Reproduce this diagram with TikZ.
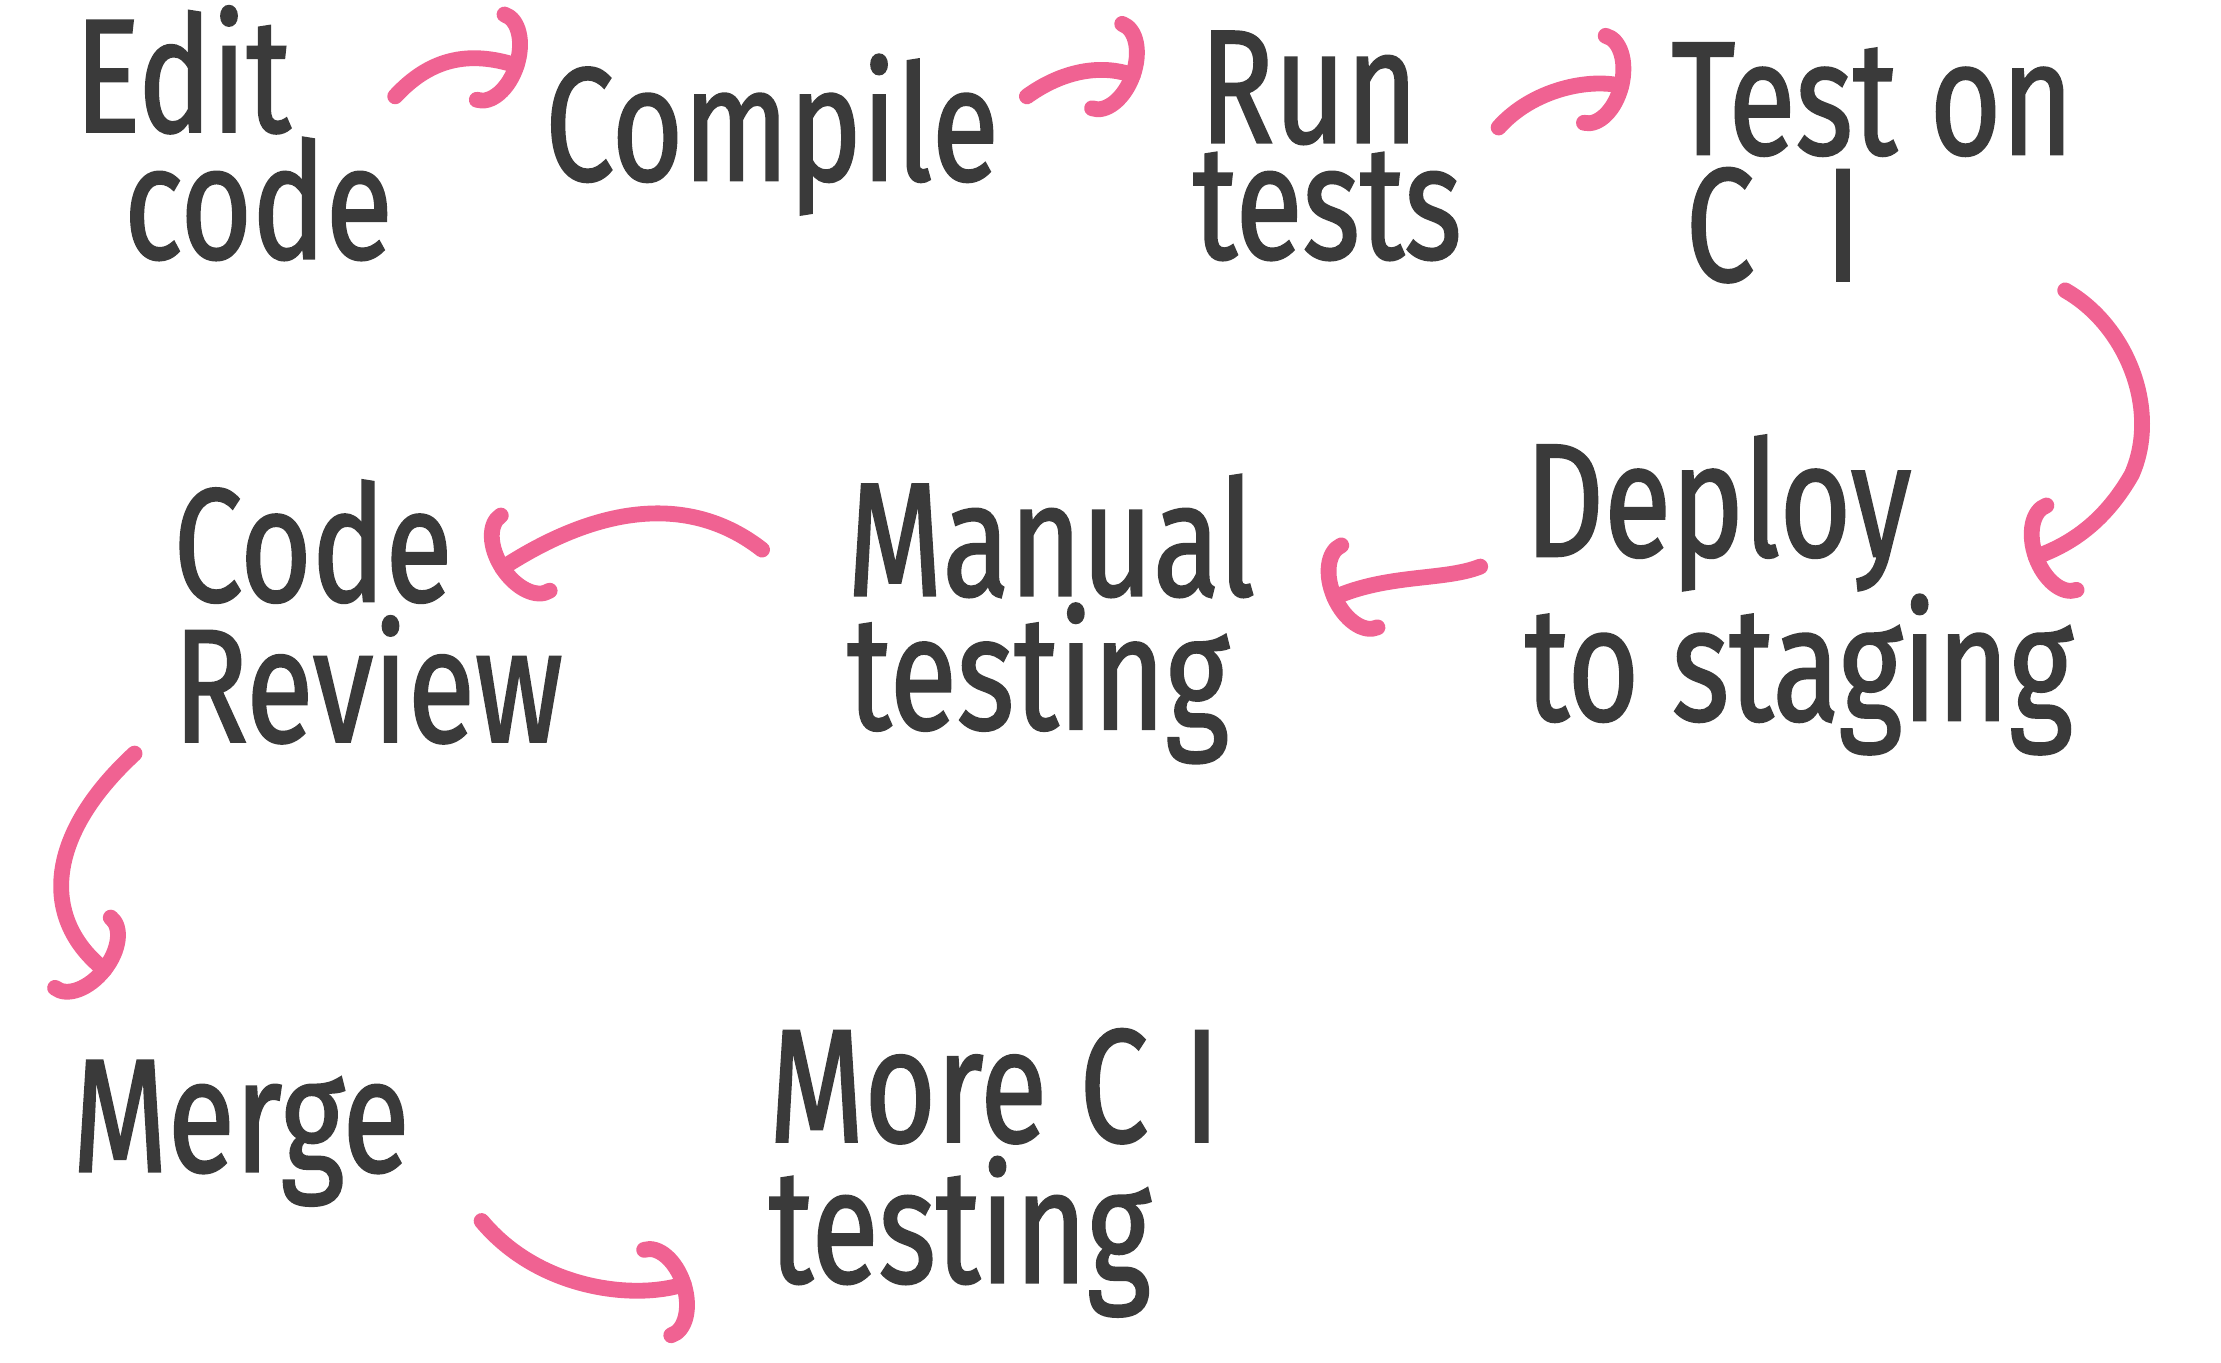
\documentclass[tikz,border=0pt]{standalone}
\usepackage{fontspec}
\newfontfamily\hand[FakeStretch=0.76,FakeBold=1.2]{Fira Sans}
\usetikzlibrary{arrows.meta}
\definecolor{ink}{HTML}{3A3A3A}
\definecolor{pinkc}{HTML}{F06292}
\tikzset{
  txt/.style={text=ink, inner sep=0pt, align=left, font=\hand\fontsize{46}{#1}\selectfont},
  txt/.default=38,
  arr/.style={draw=pinkc, line width=4.5pt, line cap=round,
    -{Arc Barb[length=10pt,width=30pt,round]}}
}
\begin{document}
\begin{tikzpicture}[x=0.014165cm, y=-0.014165cm]
\useasboundingbox (0,0) rectangle (1568,962);
% nodes
\node[txt=33] (ec) at (165,94) {Edit\\\hspace*{14pt}code};
\node[txt] (cp) at (545,95) {Compile};
\node[txt=33] (rt) at (937,103) {\hspace*{2pt}Run\\tests};
\node[txt=36] (tc) at (1322,115) {Test on\\\hspace*{4pt}C\hspace{20pt}I};
\node[txt=34] (ds) at (1270,420) {Deploy\\to staging};
\node[txt] (mt) at (742,437) {Manual\\testing};
\node[txt=40] (cr) at (260,432) {Code\\Review};
\node[txt] (mg) at (170,800) {Merge};
\node[txt=40] (mc) at (702,828) {More C\hspace{10pt}I\\testing};
% connectors
\draw[arr] ([shift={(114,-26)}]ec.center) .. controls ([shift={(138,-52)}]ec.center) and ([shift={(-215,-60)}]cp.center) .. ([shift={(-175,-47)}]cp.center);
\draw[arr] ([shift={(180,-27)}]cp.center) .. controls ([shift={(205,-45)}]cp.center) and ([shift={(-160,-58)}]rt.center) .. ([shift={(-132,-48)}]rt.center);
\draw[arr] ([shift={(121,-13)}]rt.center) .. controls ([shift={(145,-40)}]rt.center) and ([shift={(-200,-60)}]tc.center) .. ([shift={(-172,-53)}]tc.center);
\draw[arr] ([shift={(136,90)}]tc.center) .. controls ([shift={(180,115)}]tc.center) and ([shift={(255,-130)}]ds.center) .. ([shift={(235,-85)}]ds.center) .. controls ([shift={(215,-50)}]ds.center) and ([shift={(190,-35)}]ds.center) .. ([shift={(162,-25)}]ds.center);
\draw[arr] ([shift={(-225,-20)}]ds.center) .. controls ([shift={(-250,-10)}]ds.center) and ([shift={(-290,-15)}]ds.center) .. ([shift={(195,-13)}]mt.center);
\draw[arr] ([shift={(-204,-49)}]mt.center) .. controls ([shift={(-250,-85)}]mt.center) and ([shift={(170,-80)}]cr.center) .. ([shift={(90,-28)}]cr.center);
\draw[arr] ([shift={(-165,100)}]cr.center) .. controls ([shift={(-230,160)}]cr.center) and ([shift={(-140,-150)}]mg.center) .. ([shift={(-92,-112)}]mg.center);
\draw[arr] ([shift={(170,62)}]mg.center) .. controls ([shift={(210,110)}]mg.center) and ([shift={(-255,90)}]mc.center) .. ([shift={(-214,77)}]mc.center);
\end{tikzpicture}
\end{document}
